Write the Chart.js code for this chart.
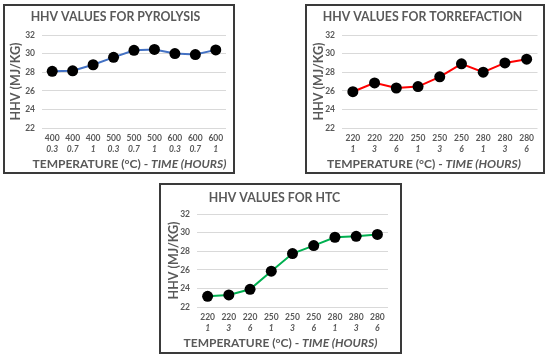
<!DOCTYPE html>
<html>
<head>
<meta charset="utf-8">
<script src="https://cdn.jsdelivr.net/npm/chart.js@4/dist/chart.umd.min.js"></script>
<style>
  body { margin: 0; background: #fff; width: 550px; height: 359px; position: relative; overflow: hidden; }
  .box { position: absolute; box-sizing: border-box; border: 2px solid #3a3a3a; background: #fff; }
  .box canvas { display: block; }
</style>
</head>
<body>
<div class="box" style="left:3px;top:4px;width:232px;height:170px;"><canvas id="pyro" width="228" height="166"></canvas></div>
<div class="box" style="left:305px;top:4px;width:240px;height:170px;"><canvas id="torr" width="236" height="166"></canvas></div>
<div class="box" style="left:159px;top:183px;width:243px;height:171px;"><canvas id="htc" width="239" height="167"></canvas></div>
<script>
// data
const pyroTemps = ['400', '400', '400', '500', '500', '500', '600', '600', '600'];
const pyroTimes = ['0.3', '0.7', '1', '0.3', '0.7', '1', '0.3', '0.7', '1'];
const pyroHHV = [28.1, 28.15, 28.8, 29.6, 30.35, 30.45, 30.0, 29.9, 30.4];

const torrTemps = ['220', '220', '220', '250', '250', '250', '280', '280', '280'];
const torrTimes = ['1', '3', '6', '1', '3', '6', '1', '3', '6'];
const torrHHV = [25.9, 26.85, 26.3, 26.45, 27.5, 28.9, 28.0, 29.0, 29.4];

const htcTemps = ['220', '220', '220', '250', '250', '250', '280', '280', '280'];
const htcTimes = ['1', '3', '6', '1', '3', '6', '1', '3', '6'];
const htcHHV = [23.15, 23.3, 23.9, 25.85, 27.75, 28.6, 29.5, 29.6, 29.8];

const yTicks = [22, 24, 26, 28, 30, 32];

const FONT = 'Lato';
const GREY = '#595959';

// x axis title has a normal part and an italic part, chart.js can't mix them
const xTitlePlugin = {
    id: 'xTitle',
    afterDraw(chart, args, opts) {
        const { ctx } = chart;
        const a = 'TEMPERATURE (°C) - ';
        const b = 'TIME (HOURS)';
        ctx.save();
        ctx.fillStyle = GREY;
        ctx.textBaseline = 'middle';
        ctx.font = 'bold 12px ' + FONT;
        const wa = ctx.measureText(a).width;
        ctx.font = 'italic bold 12px ' + FONT;
        const wb = ctx.measureText(b).width;
        const x = opts.x - (wa + wb) / 2;
        ctx.font = 'bold 12px ' + FONT;
        ctx.fillText(a, x, opts.y);
        ctx.font = 'italic bold 12px ' + FONT;
        ctx.fillText(b, x + wa, opts.y);
        ctx.restore();
    }
};

function makeChart(id, title, temps, times, values, color, lay) {
    const canvas = document.getElementById(id);
    return new Chart(canvas, {
        type: 'line',
        data: {
            labels: temps,
            datasets: [{
                data: values,
                borderColor: color,
                borderWidth: 2,
                tension: 0,
                pointRadius: 5.5,
                pointBackgroundColor: '#000',
                pointBorderColor: '#000',
                pointBorderWidth: 0
            }]
        },
        plugins: [xTitlePlugin],
        options: {
            responsive: false,
            animation: false,
            devicePixelRatio: 1,
            layout: { padding: { left: 0, top: 0, right: lay.right, bottom: 0 } },
            plugins: {
                legend: { display: false },
                tooltip: { enabled: false },
                title: {
                    display: true,
                    text: title,
                    color: GREY,
                    font: { family: FONT, size: 12.3, weight: 'bold', lineHeight: 1.2 },
                    padding: { top: lay.titleTop, bottom: lay.top - lay.titleTop - 14.76 }
                },
                xTitle: { x: lay.xTitleX, y: lay.xTitleY }
            },
            scales: {
                y: {
                    min: yTicks[0],
                    max: yTicks[yTicks.length - 1],
                    afterBuildTicks: s => { s.ticks = yTicks.map(v => ({ value: v })); },
                    afterFit: s => { s.width = lay.left; },
                    border: { display: false },
                    grid: { color: '#d9d9d9', lineWidth: 1, drawTicks: false },
                    ticks: {
                        color: GREY,
                        padding: 7,
                        font: { family: FONT, size: 8.5, weight: 'bold' }
                    },
                    title: {
                        display: true,
                        text: 'HHV (MJ/KG)',
                        color: GREY,
                        font: { family: FONT, size: 12.5, weight: 'bold', lineHeight: 1.2 },
                        padding: { top: lay.yTitleX - 7.5, bottom: 0 }
                    }
                },
                x: {
                    weight: 0,
                    offset: true,
                    afterFit: s => { s.height = 15; },
                    border: { display: false },
                    grid: { display: false, drawTicks: false },
                    ticks: {
                        color: GREY,
                        padding: 6,
                        maxRotation: 0,
                        autoSkip: false,
                        font: { family: FONT, size: 8.5, weight: 'bold', lineHeight: 1.1 }
                    }
                },
                x2: {
                    type: 'category',
                    position: 'bottom',
                    weight: 1,
                    offset: true,
                    labels: times,
                    afterFit: s => { s.height = lay.bottom - 15; },
                    border: { display: false },
                    grid: { display: false, drawTicks: false },
                    ticks: {
                        color: GREY,
                        padding: 1.5,
                        maxRotation: 0,
                        autoSkip: false,
                        font: { family: FONT, size: 8.5, weight: 'bold', style: 'italic', lineHeight: 1.1 }
                    }
                }
            }
        }
    });
}

makeChart('pyro', 'HHV VALUES FOR PYROLYSIS', pyroTemps, pyroTimes, pyroHHV, '#4472C4',
    { left: 37, right: 7, top: 29, bottom: 44, titleTop: 3.6, yTitleX: 11, xTitleX: 124.5, xTitleY: 158 });
makeChart('torr', 'HHV VALUES FOR TORREFACTION', torrTemps, torrTimes, torrHHV, '#FF0000',
    { left: 35, right: 5, top: 29, bottom: 44, titleTop: 3.6, yTitleX: 12, xTitleX: 117, xTitleY: 158 });
makeChart('htc', 'HHV VALUES FOR HTC', htcTemps, htcTimes, htcHHV, '#00B050',
    { left: 36, right: 12, top: 29, bottom: 45, titleTop: 5.6, yTitleX: 13, xTitleX: 119.5, xTitleY: 158 });
</script>
</body>
</html>
